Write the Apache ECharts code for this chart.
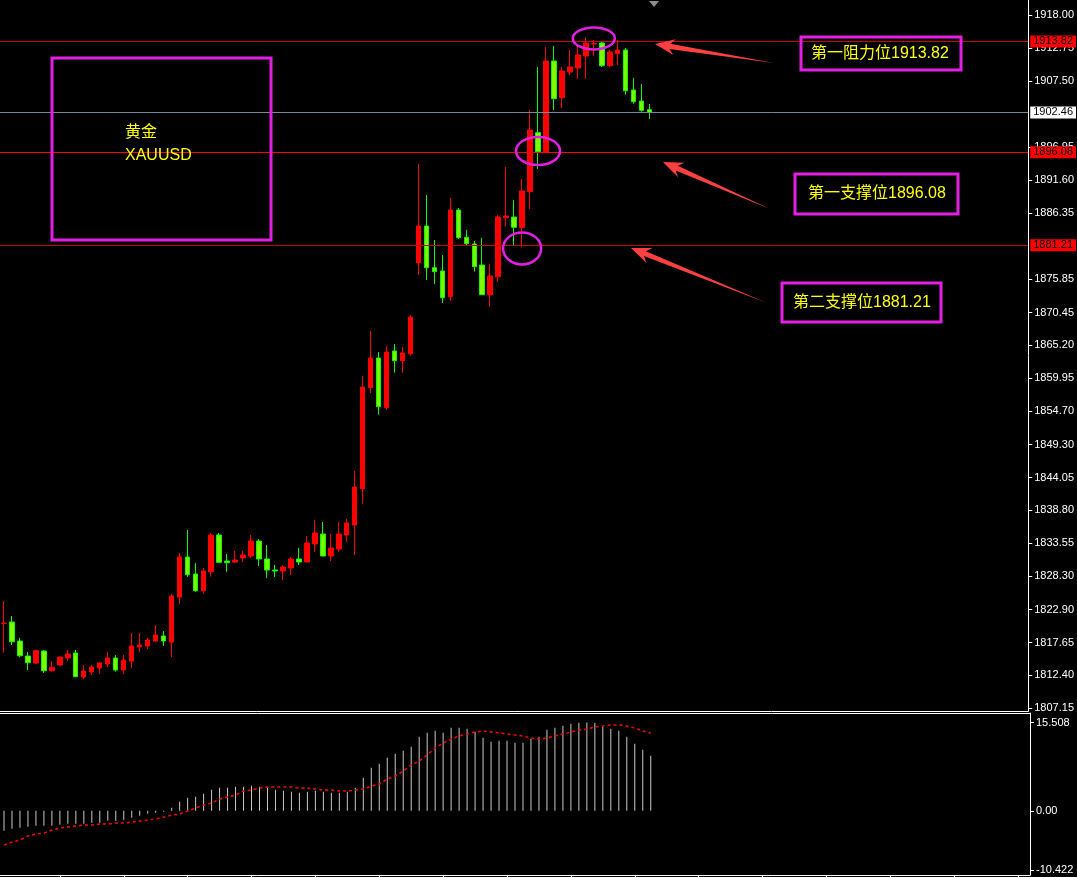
<!DOCTYPE html>
<html><head><meta charset="utf-8">
<script src="https://cdn.jsdelivr.net/npm/echarts@6/dist/echarts.min.js"></script>
<style>html,body{margin:0;padding:0;background:#000;}#c{width:1077px;height:877px;}</style>
</head><body><div id="c"></div>
<script>
// ---- data ----
const opens  = [1820.70,1820.93,1817.89,1815.49,1814.37,1816.29,1813.13,1814.05,1815.17,1815.97,
                1812.13,1812.93,1813.57,1814.21,1815.17,1813.25,1814.69,1816.93,1817.09,1817.89,
                1818.69,1817.73,1824.93,1831.33,1828.61,1825.94,1828.98,1834.85,1830.69,1830.53,
                1831.17,1831.49,1833.89,1831.01,1829.25,1829.09,1829.57,1831.01,1830.53,1833.41,
                1835.01,1831.49,1832.61,1834.85,1836.45,1842.26,1858.42,1863.17,1855.22,1864.29,
                1862.74,1863.86,1878.42,1884.29,1877.62,1877.09,1872.98,1886.85,1882.48,1881.41,
                1878.05,1873.30,1876.18,1885.62,1885.73,1884.02,1889.78,1899.22,1896.13,1910.69,
                1904.82,1908.93,1909.57,1911.49,1913.41,1913.57,1909.94,1911.86,1912.45,1906.05,
                1904.29,1902.90];
const closes = [1820.75,1817.78,1815.53,1814.42,1816.34,1813.13,1813.68,1815.33,1815.81,1812.18,
                1813.09,1813.73,1814.37,1815.17,1813.25,1814.85,1817.09,1817.25,1818.05,1818.85,
                1817.89,1825.09,1831.33,1828.49,1825.94,1829.09,1834.85,1830.48,1830.42,1830.85,
                1831.65,1833.89,1831.01,1829.25,1829.09,1829.73,1831.01,1830.53,1833.57,1835.17,
                1831.49,1832.77,1835.01,1836.77,1842.53,1858.53,1863.17,1855.38,1864.13,1862.74,
                1863.97,1869.73,1884.29,1877.62,1876.98,1872.82,1886.85,1882.42,1881.46,1877.78,
                1873.30,1876.29,1885.73,1885.89,1884.08,1889.89,1899.65,1896.18,1910.69,1904.66,
                1909.09,1909.73,1911.65,1913.57,1913.50,1909.94,1912.13,1912.45,1905.94,1904.18,
                1902.80,1902.46];
const lows   = [1816.02,1817.25,1815.28,1813.25,1814.20,1812.77,1813.00,1813.89,1814.69,1812.13,
                1811.81,1812.45,1812.61,1813.73,1812.99,1812.61,1813.57,1816.13,1816.61,1817.73,
                1817.09,1815.33,1823.81,1828.13,1825.78,1825.46,1828.18,1830.41,1828.98,1830.37,
                1830.53,1831.17,1829.89,1827.97,1828.13,1827.65,1828.45,1830.05,1830.53,1832.13,
                1831.49,1830.69,1832.13,1833.73,1831.65,1839.86,1857.57,1854.10,1854.90,1860.82,
                1860.82,1863.54,1876.45,1875.65,1875.01,1871.97,1872.29,1882.21,1881.25,1876.98,
                1873.25,1871.38,1875.38,1884.18,1881.25,1880.82,1887.01,1893.42,1896.13,1902.85,
                1903.17,1908.45,1907.81,1907.81,1911.49,1909.73,1909.73,1910.05,1905.30,1903.86,
                1902.58,1901.38];
const highs  = [1824.29,1821.89,1818.37,1816.13,1816.50,1816.45,1814.69,1815.40,1816.45,1816.45,
                1814.05,1814.05,1814.53,1816.13,1815.65,1815.65,1819.17,1819.17,1818.37,1820.45,
                1819.49,1825.41,1831.97,1835.65,1830.37,1829.57,1835.17,1835.17,1831.81,1832.29,
                1832.29,1834.85,1834.21,1833.25,1830.05,1830.05,1831.33,1832.77,1834.69,1837.25,
                1836.93,1835.01,1836.93,1837.41,1845.09,1860.29,1867.49,1864.13,1865.09,1865.41,
                1864.93,1870.05,1894.21,1889.25,1882.05,1879.65,1888.77,1887.17,1883.65,1881.89,
                1882.37,1878.21,1886.05,1893.73,1888.45,1891.81,1902.85,1909.73,1912.93,1913.09,
                1909.73,1912.45,1913.09,1914.53,1914.05,1913.73,1912.45,1914.05,1912.77,1907.97,
                1907.01,1903.81];
const histogram = [-3.52,-3.17,-2.99,-2.82,-2.64,-2.64,-2.64,-2.46,-2.29,-2.29,-2.29,-2.11,-2.11,-1.76,-1.76,-1.58,-1.23,-0.88,-0.53,-0.35,-0.18,
                   0.53,1.58,2.29,2.46,2.99,3.70,4.05,4.05,4.23,4.23,4.40,4.23,4.05,3.70,3.52,3.35,3.17,3.35,3.52,3.35,3.17,3.17,3.35,
                   4.05,5.81,7.57,8.27,9.33,10.04,10.56,11.27,13.03,13.73,14.08,13.73,14.61,14.61,14.44,13.91,12.85,12.15,12.32,12.32,
                   11.97,11.97,12.68,13.03,14.26,14.61,14.96,15.32,15.49,15.508,15.49,14.79,14.44,14.08,13.03,11.80,10.74,9.68];
const signal = [-6.04,-5.51,-5.16,-4.45,-4.10,-3.93,-3.40,-3.05,-2.87,-2.69,-2.52,-2.52,-2.34,-2.34,-2.17,-2.17,-1.99,-1.81,-1.64,-1.41,
                -1.11,-0.76,-0.58,-0.05,0.48,1.00,1.36,2.06,2.41,2.76,3.47,3.64,4.00,4.17,4.17,4.17,4.17,4.00,4.00,3.82,3.64,3.64,3.47,3.47,
                3.64,3.82,4.35,4.70,5.58,6.11,6.99,8.05,8.75,9.81,11.04,11.92,12.62,13.15,13.50,13.86,14.03,13.86,13.68,13.50,
                13.33,13.15,12.80,12.62,12.80,13.15,13.50,13.86,14.21,14.38,14.74,14.91,15.09,15.09,14.91,14.56,14.03,13.68];
const totalSlots = 129; // chart shifted: empty space to the right of the last bar
const categories = Array.from({length: totalSlots}, (_, i) => String(i + 1));
const priceTicks = [1918.00,1912.75,1907.50,1896.95,1891.60,1886.35,1875.85,1870.45,1865.20,1859.95,1854.70,
                    1849.30,1844.05,1838.80,1833.55,1828.30,1822.90,1817.65,1812.40,1807.15];
const indTicks = [15.508, 0, -10.422];
const indTickLabels = ['15.508', '0.00', '-10.422'];
const resistance1 = 1913.82, support1 = 1896.08, support2 = 1881.21;
const lastPrice = closes[closes.length - 1];
const titleLines = ['黄金', 'XAUUSD'];
const notes = ['第一阻力位1913.82', '第一支撑位1896.08', '第二支撑位1881.21'];

// ---- chart ----
const chart = echarts.init(document.getElementById('c'), null, {renderer: 'canvas'});
const axisFont = "'Liberation Sans Narrow','Liberation Sans',Arial,sans-serif";
const candles = opens.map((o, i) => [o, closes[i], lows[i], highs[i]]);
function levelLine(v, lineColor, boxColor, textColor) {
  return {yAxis: v, lineStyle: {color: lineColor, width: 1, type: 'solid'},
          label: {show: true, position: 'end', distance: 2, formatter: () => v.toFixed(2),
                  backgroundColor: boxColor, color: textColor, padding: [1, 3, 0, 3],
                  fontSize: 11, fontFamily: axisFont}};
}
const plainAxis = {axisTick: {show: false}, axisLabel: {show: false}, splitLine: {show: false}};
chart.setOption({
  animation: false,
  backgroundColor: '#000000',
  grid: [
    {left: -2, right: 47, top: 0, height: 711, show: false},
    {left: -2, right: 47, top: 713, height: 162, show: false}
  ],
  xAxis: [
    Object.assign({type: 'category', gridIndex: 0, data: categories, boundaryGap: true,
     axisLine: {show: true, onZero: false, lineStyle: {color: '#ffffff'}}}, plainAxis),
    {type: 'category', gridIndex: 1, data: categories, boundaryGap: true, position: 'bottom',
     axisLine: {show: true, onZero: false, lineStyle: {color: '#ffffff'}},
     axisTick: {show: true, alignWithLabel: true, interval: (i) => i % 8 === 7, length: 4, lineStyle: {color: '#ffffff'}},
     axisLabel: {show: false}, splitLine: {show: false}},
    Object.assign({type: 'category', gridIndex: 1, data: categories, boundaryGap: true, position: 'top',
     axisLine: {show: true, onZero: false, lineStyle: {color: '#ffffff'}}}, plainAxis)
  ],
  yAxis: [
    {type: 'value', gridIndex: 0, position: 'right', min: 1806.69, max: 1920.45, scale: true,
     axisLine: {show: true, lineStyle: {color: '#ffffff'}},
     axisTick: {show: true, customValues: priceTicks, length: 4, lineStyle: {color: '#ffffff'}},
     axisLabel: {customValues: priceTicks, formatter: v => Number(v).toFixed(2), color: '#ffffff',
                 fontSize: 11, fontFamily: axisFont, margin: 6},
     splitLine: {show: false}},
    {type: 'value', gridIndex: 1, position: 'right', min: -11.3, max: 17.2,
     axisLine: {show: true, lineStyle: {color: '#ffffff'}},
     axisTick: {show: true, customValues: indTicks, length: 4, lineStyle: {color: '#ffffff'}},
     axisLabel: {customValues: indTicks, formatter: v => indTickLabels[indTicks.indexOf(v)] ?? String(v),
                 color: '#ffffff', fontSize: 11, fontFamily: axisFont, margin: 6},
     splitLine: {show: false}}
  ],
  series: [
    {type: 'candlestick', xAxisIndex: 0, yAxisIndex: 0, data: candles, barWidth: 5,
     itemStyle: {color: '#ff0000', color0: '#7cfc00', borderColor: '#ff0000', borderColor0: '#00ff00', borderWidth: 1},
     markLine: {silent: true, symbol: ['none', 'none'], animation: false, z: 5,
       data: [
         levelLine(resistance1, '#d00000', '#ff0000', '#000000'),
         levelLine(lastPrice, '#778899', '#ffffff', '#000000'),
         levelLine(support1, '#ff0000', '#ff0000', '#000000'),
         levelLine(support2, '#c80000', '#ff0000', '#000000')
       ]}},
    {type: 'bar', xAxisIndex: 1, yAxisIndex: 1, data: histogram, barWidth: 1,
     itemStyle: {color: '#c8c8c8'}},
    {type: 'line', xAxisIndex: 1, yAxisIndex: 1, data: signal, showSymbol: false, symbol: 'none',
     lineStyle: {color: '#ff0000', width: 1.5, type: [3, 3]}}
  ]
});

// ---- annotations ----
const mag = '#e41ee4', yel = '#ffff00', txtFont = "16px 'Liberation Sans','Noto Sans CJK SC',sans-serif";
function arrow(tip, tail) {
  const dx = tip[0] - tail[0], dy = tip[1] - tail[1], L = Math.hypot(dx, dy);
  const ux = dx / L, uy = dy / L, px = -uy, py = ux;
  const hl = 20, hh = 8, sh = 2.6;
  const bx = tip[0] - ux * hl, by = tip[1] - uy * hl;
  const nx = tip[0] - ux * (hl - 5), ny = tip[1] - uy * (hl - 5);
  return {type: 'polygon', shape: {points: [
      tip, [bx + px * hh, by + py * hh], [nx + px * sh, ny + py * sh], tail,
      [nx - px * sh, ny - py * sh], [bx - px * hh, by - py * hh]]},
    style: {fill: '#ff4040'}, z: 20};
}
function px(i, v) { return chart.convertToPixel({xAxisIndex: 0, yAxisIndex: 0}, [i, v]); }
const e1 = px(73.5, 1914.3), e2 = px(67, 1896.3), e3 = px(64.5, 1880.7);
chart.setOption({graphic: [
  {type: 'rect', shape: {x: 52, y: 58, width: 219, height: 182}, style: {fill: 'none', stroke: mag, lineWidth: 3}, z: 20},
  {type: 'text', x: 125, y: 133, style: {text: titleLines[0], fill: yel, font: txtFont, verticalAlign: 'middle'}, z: 21},
  {type: 'text', x: 125, y: 156, style: {text: titleLines[1], fill: yel, font: txtFont, verticalAlign: 'middle'}, z: 21},
  {type: 'rect', shape: {x: 801, y: 37, width: 160, height: 33}, style: {fill: 'none', stroke: mag, lineWidth: 3}, z: 20},
  {type: 'text', x: 811, y: 54, style: {text: notes[0], fill: yel, font: txtFont, verticalAlign: 'middle'}, z: 21},
  {type: 'rect', shape: {x: 795, y: 174, width: 163, height: 40}, style: {fill: 'none', stroke: mag, lineWidth: 3}, z: 20},
  {type: 'text', x: 808, y: 194, style: {text: notes[1], fill: yel, font: txtFont, verticalAlign: 'middle'}, z: 21},
  {type: 'rect', shape: {x: 782, y: 283, width: 159, height: 39}, style: {fill: 'none', stroke: mag, lineWidth: 3}, z: 20},
  {type: 'text', x: 793, y: 303, style: {text: notes[2], fill: yel, font: txtFont, verticalAlign: 'middle'}, z: 21},
  arrow([655, 44], [774, 63]),
  arrow([663, 162], [770, 209]),
  arrow([631, 248], [767, 303]),
  {type: 'ellipse', shape: {cx: e1[0], cy: e1[1], rx: 21, ry: 11}, style: {fill: 'none', stroke: mag, lineWidth: 2.5}, z: 22},
  {type: 'ellipse', shape: {cx: e2[0], cy: e2[1], rx: 22, ry: 14}, style: {fill: 'none', stroke: mag, lineWidth: 2.5}, z: 22},
  {type: 'ellipse', shape: {cx: e3[0], cy: e3[1], rx: 19, ry: 16}, style: {fill: 'none', stroke: mag, lineWidth: 2.5}, z: 22},
  {type: 'polygon', shape: {points: [[649, 1], [659, 1], [654, 7]]}, style: {fill: '#8c8c8c'}, z: 20}
]});
</script>
</body></html>
